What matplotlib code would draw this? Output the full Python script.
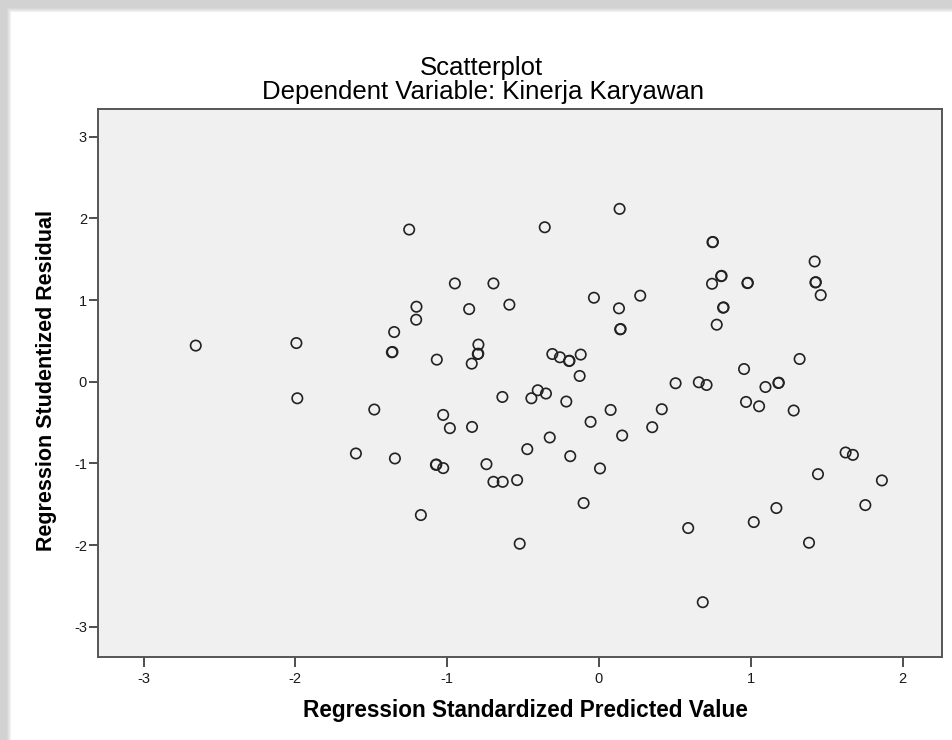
import matplotlib
matplotlib.use('Agg')
import matplotlib.pyplot as plt
from matplotlib.patches import Rectangle

plt.rcParams['font.family'] = ['Liberation Sans', 'DejaVu Sans']
plt.rcParams['axes.unicode_minus'] = False

# chart texts
title = 'Scatterplot'
subtitle = 'Dependent Variable: Kinerja Karyawan'
xlabel = 'Regression Standardized Predicted Value'
ylabel = 'Regression Studentized Residual'
ticks = [-3, -2, -1, 0, 1, 2]
yticks = [-3, -2, -1, 0, 1, 2, 3]

# predicted value (x) and studentized residual (y)
pred = [-2.656, -1.993, -1.987, -1.480, -1.601, -1.344, -1.250, -1.349,
        -1.364, -1.360, -1.202, -1.204, -1.173, -1.068, -1.026, -0.982,
        -0.836, -1.074, -1.071, -1.026, -0.741, -0.695, -0.634, -0.539,
        -0.522, -0.636, -0.949, -0.695, -0.855, -0.590, -0.794, -0.798,
        -0.795, -0.838, -0.357, 0.136, -0.033, 0.132, 0.272, 0.140,
        0.143, 0.748, 0.751, 0.805, 0.808, 0.745, 0.978, 0.981,
        0.818, 0.821, 0.776, 1.421, 1.426, 1.429, 1.461, 1.322,
        0.956, -0.307, -0.257, -0.197, -0.194, -0.120, -0.127, 0.505,
        0.658, 0.709, 1.097, 1.182, 1.185, -0.403, -0.445, -0.349,
        -0.215, 0.969, 1.055, 1.283, -0.055, 0.077, 0.414, 0.351,
        0.153, -0.324, -0.472, -0.189, 0.007, -0.101, 0.588, 1.020,
        1.169, 1.384, 0.684, 1.443, 1.625, 1.673, 1.755, 1.864]
resid = [0.443, 0.474, -0.202, -0.340, -0.878, -0.939, 1.864, 0.609,
         0.361, 0.365, 0.919, 0.760, -1.632, 0.271, -0.406, -0.568,
         -0.553, -1.017, -1.013, -1.057, -1.009, -1.225, -1.225, -1.204,
         -1.983, -0.186, 1.204, 1.204, 0.890, 0.944, 0.455, 0.340,
         0.344, 0.222, 1.892, 2.117, 1.029, 0.899, 1.054, 0.642,
         0.646, 1.709, 1.712, 1.293, 1.297, 1.200, 1.208, 1.212,
         0.907, 0.911, 0.699, 1.473, 1.216, 1.220, 1.061, 0.279,
         0.156, 0.340, 0.300, 0.254, 0.258, 0.333, 0.071, -0.018,
         -0.006, -0.039, -0.064, -0.015, -0.011, -0.104, -0.202, -0.144,
         -0.242, -0.247, -0.300, -0.352, -0.491, -0.345, -0.336, -0.556,
         -0.658, -0.682, -0.825, -0.911, -1.061, -1.485, -1.791, -1.718,
         -1.546, -1.971, -2.699, -1.131, -0.866, -0.895, -1.510, -1.208]

fig = plt.figure(figsize=(9.52, 7.40), dpi=100)
fig.patch.set_facecolor('#d2d2d2')

# white panel with a soft shadow along the top and left
for i, c in enumerate(['#d8d8d8', '#e0e0e0', '#e8e8e8', '#f0f0f0']):
    d = (4 - i) * 2
    fig.patches.append(Rectangle(((11 - d * 0.5) / 952, 0), 1, 1 - (12 - d * 0.5) / 740,
                                 transform=fig.transFigure, facecolor=c,
                                 edgecolor='none', zorder=-10))
fig.patches.append(Rectangle((11 / 952, 0), 1, 1 - 12 / 740, transform=fig.transFigure,
                             facecolor='white', edgecolor='none', zorder=-9))

ax = fig.add_axes([98 / 952, 1 - 657 / 740, 844 / 952, 548 / 740])
ax.set_zorder(1)
ax.set_facecolor('#f0f0f0')
ax.scatter(pred, resid, s=56, facecolors='none', edgecolors='#222222',
           linewidths=1.2, zorder=3)

ax.set_xlim(-3.30, 2.26)
ax.set_ylim(-3.37, 3.34)
ax.set_xticks(ticks)
ax.set_yticks(yticks)
ax.set_xticklabels([str(t) for t in ticks])
ax.set_yticklabels([str(t) for t in yticks])
ax.tick_params(axis='both', direction='out', color='#404040', width=1.3,
               labelsize=10.5, labelcolor='#1a1a1a')
ax.tick_params(axis='x', length=7, pad=4)
ax.tick_params(axis='y', length=6.5, pad=1.5)
for s in ax.spines.values():
    s.set_color('#555555')
    s.set_linewidth(1.4)

ax.set_xlabel(xlabel, fontsize=16.3, fontweight='bold', va='center')
ax.xaxis.set_label_coords(0.507, -0.0985)
ax.set_ylabel(ylabel, fontsize=15.5, fontweight='bold', va='center')
ax.yaxis.set_label_coords(-0.0616, 0.505)

fig.text(481 / 952, 1 - 68 / 740, title, ha='center', va='center', fontsize=18.5)
fig.text(483 / 952, 1 - 92 / 740, subtitle, ha='center', va='center', fontsize=18.5)

fig.savefig('out.png', dpi=100, facecolor=fig.get_facecolor())
